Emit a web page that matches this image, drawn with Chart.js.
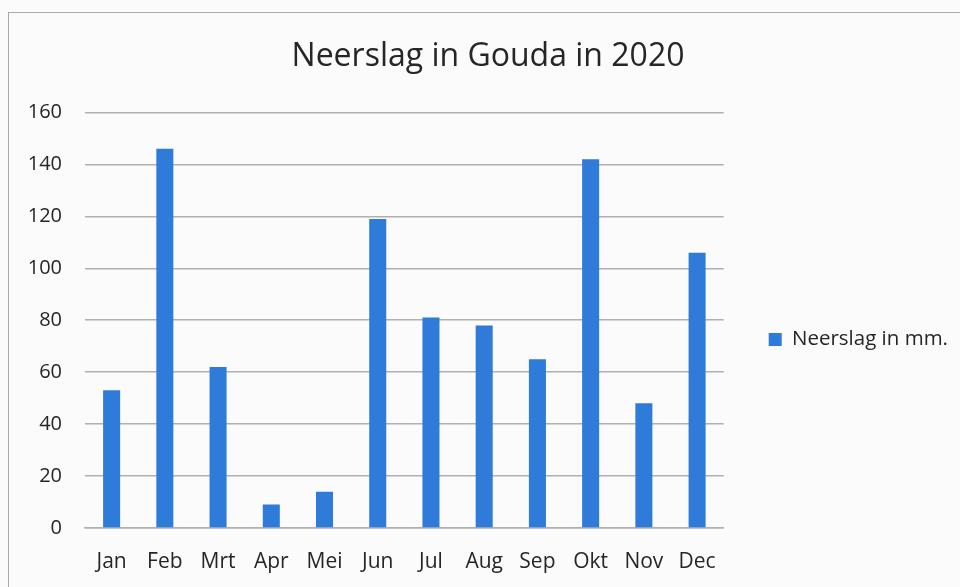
<!DOCTYPE html>
<html>
<head>
<meta charset="utf-8">
<script src="https://cdn.jsdelivr.net/npm/chart.js@4/dist/chart.umd.min.js"></script>
<style>
  html, body { margin: 0; padding: 0; background: #fbfbfb; overflow: hidden; }
  #frame { position: absolute; left: 8px; top: 12px; width: 1000px; height: 600px; border: 1px solid #a9a9a9; }
  #wrap { position: absolute; left: 0; top: 0; width: 1000px; height: 587px; }
</style>
</head>
<body>
<div id="frame"></div>
<div id="wrap"><canvas id="chart"></canvas></div>
<script>
const months = ['Jan', 'Feb', 'Mrt', 'Apr', 'Mei', 'Jun', 'Jul', 'Aug', 'Sep', 'Okt', 'Nov', 'Dec'];
const rainfall = [53, 146, 62, 9, 14, 119, 81, 78, 65, 142, 48, 106];
const yTicks = [0, 20, 40, 60, 80, 100, 120, 140, 160];

const colors = {
  bar: '#2e7bd9',
  grid: '#b0b0b0',
  text: '#262626'
};

Chart.defaults.font.family = '"Open Sans", sans-serif';
Chart.defaults.color = colors.text;

new Chart(document.getElementById('chart'), {
  type: 'bar',
  data: {
    labels: months,
    datasets: [{
      label: 'Neerslag in mm.',
      data: rainfall,
      backgroundColor: colors.bar,
      categoryPercentage: 1,
      barPercentage: 0.32
    }]
  },
  options: {
    responsive: true,
    maintainAspectRatio: false,
    animation: false,
    layout: {
      padding: { left: 18, right: 42, top: 0, bottom: 12 }
    },
    scales: {
      x: {
        afterFit: (scale) => { scale.height = 47; },
        grid: { display: false, drawTicks: false },
        border: { display: true, color: colors.grid, width: 1.5 },
        ticks: { font: { size: 21 }, padding: 21, color: colors.text, maxRotation: 0 }
      },
      y: {
        min: 0,
        max: 160,
        afterBuildTicks: (scale) => { scale.ticks = yTicks.map(v => ({ value: v })); },
        afterFit: (scale) => { scale.width = 67; },
        grid: { color: colors.grid, lineWidth: 1.5, drawTicks: false },
        border: { display: false },
        ticks: { font: { size: 20 }, padding: 23, color: colors.text }
      }
    },
    plugins: {
      title: {
        display: true,
        text: 'Neerslag in Gouda in 2020',
        font: { size: 32, weight: 'normal' },
        color: colors.text,
        padding: { top: 38, bottom: 36 }
      },
      legend: {
        position: 'right',
        // blank title only pushes the single legend item down a bit
        title: { display: true, text: ' ', font: { size: 10 }, padding: { top: 92, bottom: 0 } },
        labels: {
          boxWidth: 13,
          boxHeight: 13,
          font: { size: 20.5 },
          color: colors.text,
          padding: 45
        }
      },
      tooltip: { enabled: false }
    }
  }
});
</script>
</body>
</html>
